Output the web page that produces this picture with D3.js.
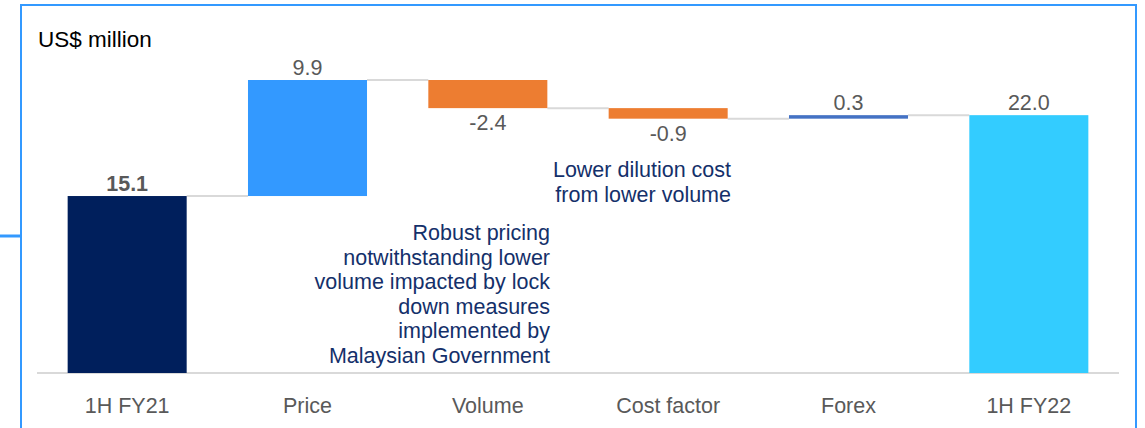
<!DOCTYPE html>
<meta charset="UTF-8">
<style>
body { margin: 0; background: #fff; }
text { font-family: "Liberation Sans", Arial, sans-serif; }
</style>
<body>
<script src="https://d3js.org/d3.v7.min.js"></script>
<script>

var categories = ["1H FY21", "Price", "Volume", "Cost factor", "Forex", "1H FY22"];
var values = [15.1, 9.9, -2.4, -0.9, 0.3, 22.0];
var isTotal = [true, false, false, false, false, true];
var barColors = ["#001f5c", "#3399ff", "#ed7d31", "#ed7d31", "#4472c4", "#33ccff"];
var valueLabels = ["15.1", "9.9", "-2.4", "-0.9", "0.3", "22.0"];

var note1 = ["Robust pricing", "notwithstanding lower", "volume impacted by lock",
             "down measures", "implemented by", "Malaysian Government"];
var note2 = ["Lower dilution cost", "from lower volume"];

var width = 1145, height = 428;
var fs = 21.5;

var svg = d3.select("body").append("svg")
    .attr("width", width)
    .attr("height", height);

// frame
svg.append("path")
    .attr("d", "M 21 430 L 21 5 L 1136 5 L 1136 430")
    .attr("fill", "none")
    .attr("stroke", "#3399ff")
    .attr("stroke-width", 2);
svg.append("line")
    .attr("x1", 0).attr("x2", 21)
    .attr("y1", 236).attr("y2", 236)
    .attr("stroke", "#3399ff")
    .attr("stroke-width", 3);

var x = d3.scaleBand()
    .domain(categories)
    .range([37, 1119])
    .paddingInner(0.34)
    .paddingOuter(0.17);

var y = d3.scaleLinear()
    .domain([0, 25])
    .range([373, 80]);

// running totals
var bars = [];
var run = 0;
categories.forEach(function(c, i) {
  var start, end;
  if (isTotal[i]) { start = 0; end = values[i]; }
  else { start = run; end = run + values[i]; }
  run = end;
  bars.push({cat: c, start: start, end: end, v: values[i], i: i});
});

// connectors
svg.selectAll("line.conn")
    .data(bars.slice(0, -1))
  .enter().append("line")
    .attr("class", "conn")
    .attr("x1", function(d) { return x(d.cat) + x.bandwidth(); })
    .attr("x2", function(d) { return x(categories[d.i + 1]); })
    .attr("y1", function(d) { return y(d.end); })
    .attr("y2", function(d) { return y(d.end); })
    .attr("stroke", "#d9d9d9")
    .attr("stroke-width", 2);

// baseline
svg.append("line")
    .attr("x1", 37).attr("x2", 1119)
    .attr("y1", y(0)).attr("y2", y(0))
    .attr("stroke", "#d9d9d9")
    .attr("stroke-width", 2);

svg.selectAll("rect.bar")
    .data(bars)
  .enter().append("rect")
    .attr("class", "bar")
    .attr("x", function(d) { return x(d.cat); })
    .attr("width", x.bandwidth())
    .attr("y", function(d) { return y(Math.max(d.start, d.end)); })
    .attr("height", function(d) { return Math.abs(y(d.start) - y(d.end)); })
    .attr("fill", function(d) { return barColors[d.i]; });

// value labels
svg.selectAll("text.val")
    .data(bars)
  .enter().append("text")
    .attr("class", "val")
    .attr("x", function(d) { return x(d.cat) + x.bandwidth() / 2; })
    .attr("y", function(d) {
      return d.v >= 0 ? y(Math.max(d.start, d.end)) - 5 : y(Math.min(d.start, d.end)) + 22;
    })
    .attr("text-anchor", "middle")
    .attr("font-size", fs)
    .attr("font-weight", function(d) { return d.i === 0 ? "bold" : "normal"; })
    .attr("fill", "#595959")
    .text(function(d) { return valueLabels[d.i]; });

// category labels
svg.selectAll("text.cat")
    .data(categories)
  .enter().append("text")
    .attr("class", "cat")
    .attr("x", function(d) { return x(d) + x.bandwidth() / 2; })
    .attr("y", 413)
    .attr("text-anchor", "middle")
    .attr("font-size", fs)
    .attr("fill", "#595959")
    .text(function(d) { return d; });

svg.append("text")
    .attr("x", 38).attr("y", 47)
    .attr("font-size", 22.5)
    .attr("fill", "#000")
    .text("US$ million");

// annotations
svg.selectAll("text.n1")
    .data(note1)
  .enter().append("text")
    .attr("class", "n1")
    .attr("x", 550)
    .attr("y", function(d, i) { return 240 + i * 24.5; })
    .attr("text-anchor", "end")
    .attr("font-size", fs)
    .attr("fill", "#14306a")
    .text(function(d) { return d; });

svg.selectAll("text.n2")
    .data(note2)
  .enter().append("text")
    .attr("class", "n2")
    .attr("x", 731)
    .attr("y", function(d, i) { return 177 + i * 25; })
    .attr("text-anchor", "end")
    .attr("font-size", fs)
    .attr("fill", "#14306a")
    .text(function(d) { return d; });

</script>
</body>
